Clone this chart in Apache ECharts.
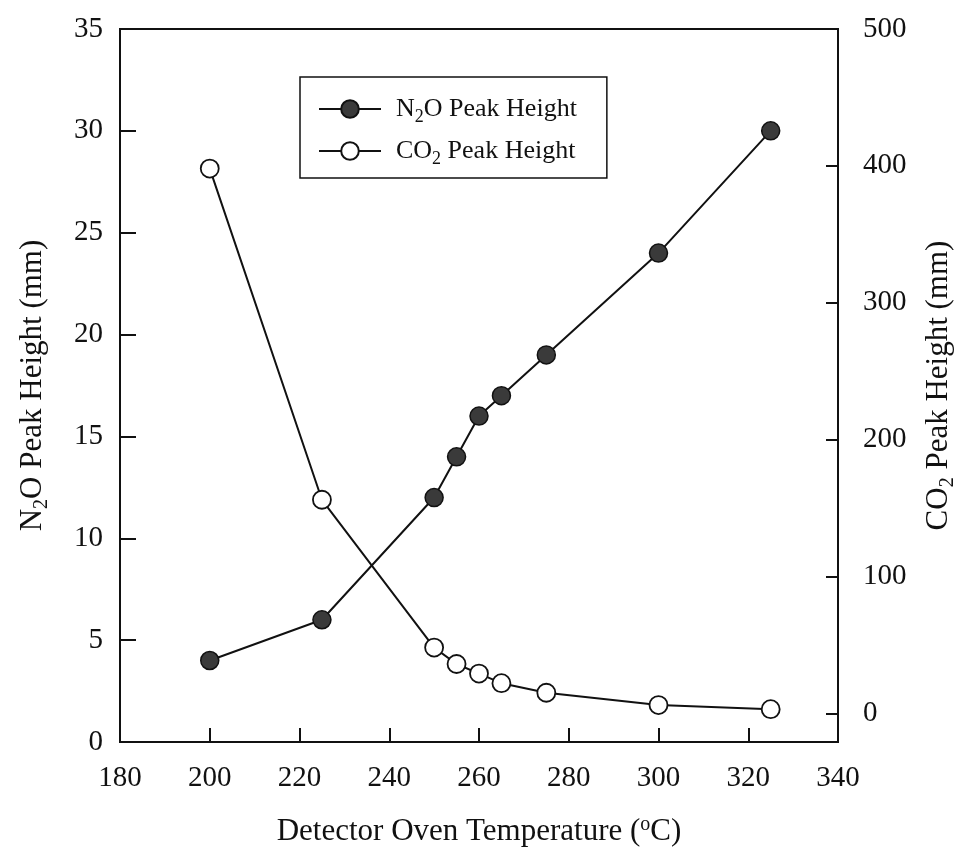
<!DOCTYPE html>
<html>
<head>
<meta charset="utf-8">
<script src="https://cdn.jsdelivr.net/npm/echarts@6/dist/echarts.min.js"></script>
<style>
html,body{margin:0;padding:0;background:#fff;}
#chart{width:956px;height:856px;}
</style>
</head>
<body>
<div id="chart"></div>
<script>
// Data
var temperatures = [200, 225, 250, 255, 260, 265, 275, 300, 325];
var n2oHeights = [4, 6, 12, 14, 16, 17, 19, 24, 30];
var co2Heights = [398, 156, 48, 36, 29, 22, 15, 6, 3];
var xTicks = [180, 200, 220, 240, 260, 280, 300, 320, 340];
var leftTicks = [0, 5, 10, 15, 20, 25, 30, 35];
var rightTicks = [0, 100, 200, 300, 400, 500];

var FONT = '"Liberation Serif", "Times New Roman", serif';
var INK = '#111';

function pairs(xs, ys) {
  return xs.map(function (x, i) { return [x, ys[i]]; });
}

var richMain = {
  a: { fontFamily: FONT, fontSize: 31, lineHeight: 38, color: INK },
  s: { fontFamily: FONT, fontSize: 20, lineHeight: 20, color: INK, verticalAlign: 'bottom' },
  p: { fontFamily: FONT, fontSize: 20, lineHeight: 20, color: INK, verticalAlign: 'top' }
};
var richMainX = {
  a: { fontFamily: FONT, fontSize: 31, lineHeight: 34, color: INK },
  p: { fontFamily: FONT, fontSize: 20, lineHeight: 20, color: INK, verticalAlign: 'top' }
};
var richLegend = {
  a: { fontFamily: FONT, fontSize: 26, lineHeight: 34, color: INK },
  s: { fontFamily: FONT, fontSize: 18, lineHeight: 18, color: INK, verticalAlign: 'bottom' }
};

var legendNames = {
  'N2O Peak Height': '{a|N}{s|2}{a|O Peak Height}',
  'CO2 Peak Height': '{a|CO}{s|2}{a| Peak Height}'
};

var chart = echarts.init(document.getElementById('chart'), null, { renderer: 'canvas' });
chart.setOption({
  animation: false,
  backgroundColor: '#fff',
  grid: {
    left: 120, right: 118, top: 29, bottom: 114,
    outerBoundsMode: 'none',
    containLabel: false,
    show: true, borderColor: INK, borderWidth: 2, backgroundColor: 'transparent'
  },
  legend: {
    left: 300, top: 77,
    orient: 'vertical',
    itemWidth: 62, itemHeight: 22, itemGap: 12,
    padding: [19, 30, 10, 18],
    borderColor: INK, borderWidth: 1.5, backgroundColor: '#fff',
    formatter: function (name) { return legendNames[name]; },
    textStyle: { rich: richLegend, padding: [0, 0, 0, 10] },
    data: ['N2O Peak Height', 'CO2 Peak Height']
  },
  xAxis: {
    type: 'value', min: xTicks[0], max: xTicks[xTicks.length - 1], interval: 20,
    name: '{a|Detector Oven Temperature (}{p|o}{a|C)}',
    nameLocation: 'middle', nameGap: 73,
    nameTextStyle: { rich: richMainX },
    axisLine: { show: true, lineStyle: { color: INK, width: 2 } },
    axisTick: { show: true, inside: true, length: 14, lineStyle: { color: INK, width: 2 } },
    axisLabel: { show: true, margin: 22, fontFamily: FONT, fontSize: 29, color: INK },
    splitLine: { show: false }
  },
  yAxis: [
    {
      type: 'value', min: leftTicks[0], max: leftTicks[leftTicks.length - 1], interval: 5,
      position: 'left',
      name: '{a|N}{s|2}{a|O Peak Height (mm)}',
      nameLocation: 'middle', nameRotate: 90, nameGap: 68,
      nameTextStyle: { rich: richMain },
      axisLine: { show: true, lineStyle: { color: INK, width: 2 } },
      axisTick: { show: true, inside: true, length: 16, lineStyle: { color: INK, width: 2 } },
      axisLabel: { show: true, margin: 17, fontFamily: FONT, fontSize: 29, color: INK },
      splitLine: { show: false }
    },
    {
      type: 'value', min: -21, max: 500,
      position: 'right', alignTicks: false,
      name: '{a|CO}{s|2}{a| Peak Height (mm)}',
      nameLocation: 'middle', nameRotate: 90, nameGap: 82,
      nameTextStyle: { rich: richMain },
      axisLine: { show: true, lineStyle: { color: INK, width: 2 } },
      axisTick: { show: true, inside: true, length: 12, customValues: rightTicks.slice(0, 5), lineStyle: { color: INK, width: 2 } },
      axisLabel: { show: true, margin: 25, customValues: rightTicks, fontFamily: FONT, fontSize: 29, color: INK },
      splitLine: { show: false }
    }
  ],
  series: [
    {
      name: 'N2O Peak Height', type: 'line', yAxisIndex: 0,
      data: pairs(temperatures, n2oHeights),
      symbol: 'circle', symbolSize: 18,
      lineStyle: { color: INK, width: 2 },
      itemStyle: { color: '#3a3a3a', borderColor: INK, borderWidth: 1.5 },
      z: 3
    },
    {
      name: 'CO2 Peak Height', type: 'line', yAxisIndex: 1,
      data: pairs(temperatures, co2Heights),
      symbol: 'circle', symbolSize: 18,
      lineStyle: { color: INK, width: 2 },
      itemStyle: { color: '#fff', borderColor: INK, borderWidth: 1.8 },
      z: 4
    }
  ]
});
</script>
</body>
</html>
